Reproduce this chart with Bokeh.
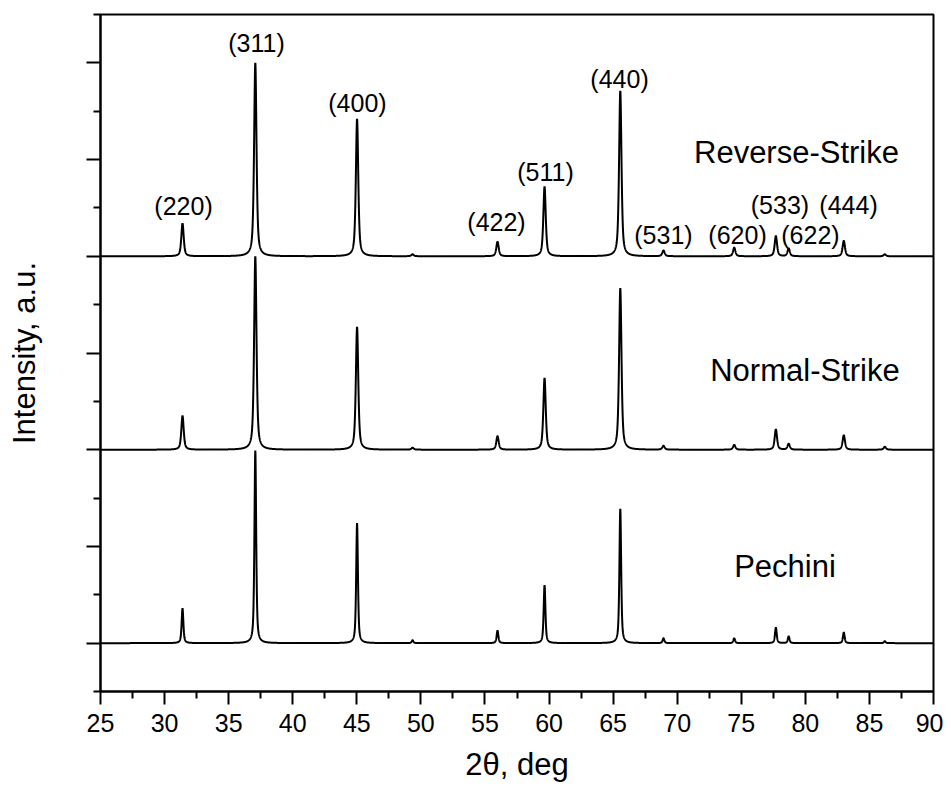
import numpy as np
from bokeh.plotting import figure
from bokeh.models import Range1d, FixedTicker
from bokeh.core.properties import value
from bokeh.embed import file_html
from bokeh.resources import INLINE

# ---- data ----
peak_pos = [31.40, 37.08, 45.02, 49.35, 55.98, 59.65, 65.56, 68.93, 74.45, 77.70, 78.70, 83.00, 86.20]
reverse_h = [0.34, 2.00, 1.42, 0.02, 0.15, 0.72, 1.71, 0.06, 0.09, 0.21, 0.08, 0.16, 0.02]
normal_h = [0.35, 2.00, 1.27, 0.02, 0.14, 0.74, 1.67, 0.04, 0.05, 0.21, 0.06, 0.15, 0.03]
pechini_h = [0.36, 1.99, 1.24, 0.03, 0.13, 0.60, 1.39, 0.05, 0.05, 0.16, 0.07, 0.11, 0.02]
fwhm = {"Reverse-Strike": 0.22, "Normal-Strike": 0.22, "Pechini": 0.16}
offsets = {"Reverse-Strike": 4.0, "Normal-Strike": 2.0, "Pechini": 0.0}

hkl_labels = ["(220)", "(311)", "(400)", "(422)", "(511)", "(440)", "(531)", "(620)", "(533)", "(622)", "(444)"]
hkl_x = [31.48, 37.17, 45.05, 55.90, 59.72, 65.50, 68.93, 74.71, 78.02, 80.40, 83.37]
hkl_y = [4.52, 6.21, 5.59, 4.35, 4.87, 5.83, 4.22, 4.22, 4.53, 4.22, 4.53]

sample_names = ["Reverse-Strike", "Normal-Strike", "Pechini"]
sample_x = [79.31, 79.97, 78.41]
sample_y = [5.07, 2.82, 0.79]

x_ticks = list(range(25, 91, 5))
y_ticks = [0, 1, 2, 3, 4, 5, 6]

FONT = "Liberation Sans"


def profile(x, heights, w):
    g = w / 2.0
    y = np.zeros_like(x)
    for c, h in zip(peak_pos, heights):
        lor = 1.0 / (1.0 + ((x - c) / g) ** 2)
        gau = np.exp(-np.log(2) * ((x - c) / g) ** 2)
        y += h * (0.6 * lor + 0.4 * gau)
    return y


p = figure(width=943, height=784, output_backend="svg", toolbar_location=None,
           x_range=Range1d(25, 90), y_range=Range1d(-0.5, 6.5),
           min_border_left=100, min_border_right=10, min_border_top=14, min_border_bottom=92)

xx = np.arange(25.0, 90.0001, 0.01)
series = {"Reverse-Strike": reverse_h, "Normal-Strike": normal_h, "Pechini": pechini_h}
for name in sample_names:
    yy = profile(xx, series[name], fwhm[name]) + offsets[name]
    p.line(xx, yy, line_color="black", line_width=2)

p.text(x=hkl_x, y=hkl_y, text=hkl_labels, text_font=value(FONT), text_font_size="25px",
       text_align="center", text_baseline="middle", text_color="black")
p.text(x=sample_x, y=sample_y, text=sample_names, text_font=value(FONT), text_font_size="31px",
       text_align="center", text_baseline="middle", text_color="black")

p.grid.visible = False
p.outline_line_color = "black"
p.outline_line_width = 2
p.background_fill_color = "white"
p.border_fill_color = "white"

xa = p.xaxis[0]
xa.ticker = FixedTicker(ticks=x_ticks, minor_ticks=[t + 2.5 for t in x_ticks[:-1]])
xa.axis_line_width = 2
xa.major_tick_line_width = 2
xa.minor_tick_line_width = 2
xa.major_tick_out = 13
xa.major_tick_in = 0
xa.minor_tick_out = 7
xa.minor_tick_in = 0
xa.major_label_text_font = FONT
xa.major_label_text_font_size = "25px"
xa.major_label_text_color = "black"
xa.major_label_standoff = 9
xa.axis_label = "2θ, deg"
xa.axis_label_text_font = FONT
xa.axis_label_text_font_size = "31px"
xa.axis_label_text_font_style = "normal"
xa.axis_label_text_color = "black"
xa.axis_label_standoff = 12

ya = p.yaxis[0]
ya.ticker = FixedTicker(ticks=y_ticks, minor_ticks=[t - 0.5 for t in y_ticks] + [6.5])
ya.axis_line_width = 2
ya.major_tick_line_width = 2
ya.minor_tick_line_width = 2
ya.major_tick_out = 14
ya.major_tick_in = 0
ya.minor_tick_out = 7
ya.minor_tick_in = 0
ya.major_label_overrides = {t: "" for t in y_ticks}
ya.major_label_standoff = 0
ya.axis_label = "Intensity, a.u."
ya.axis_label_text_font = FONT
ya.axis_label_text_font_size = "31px"
ya.axis_label_text_font_style = "normal"
ya.axis_label_text_color = "black"
ya.axis_label_standoff = 45

open("out.html", "w").write(file_html(p, INLINE))
